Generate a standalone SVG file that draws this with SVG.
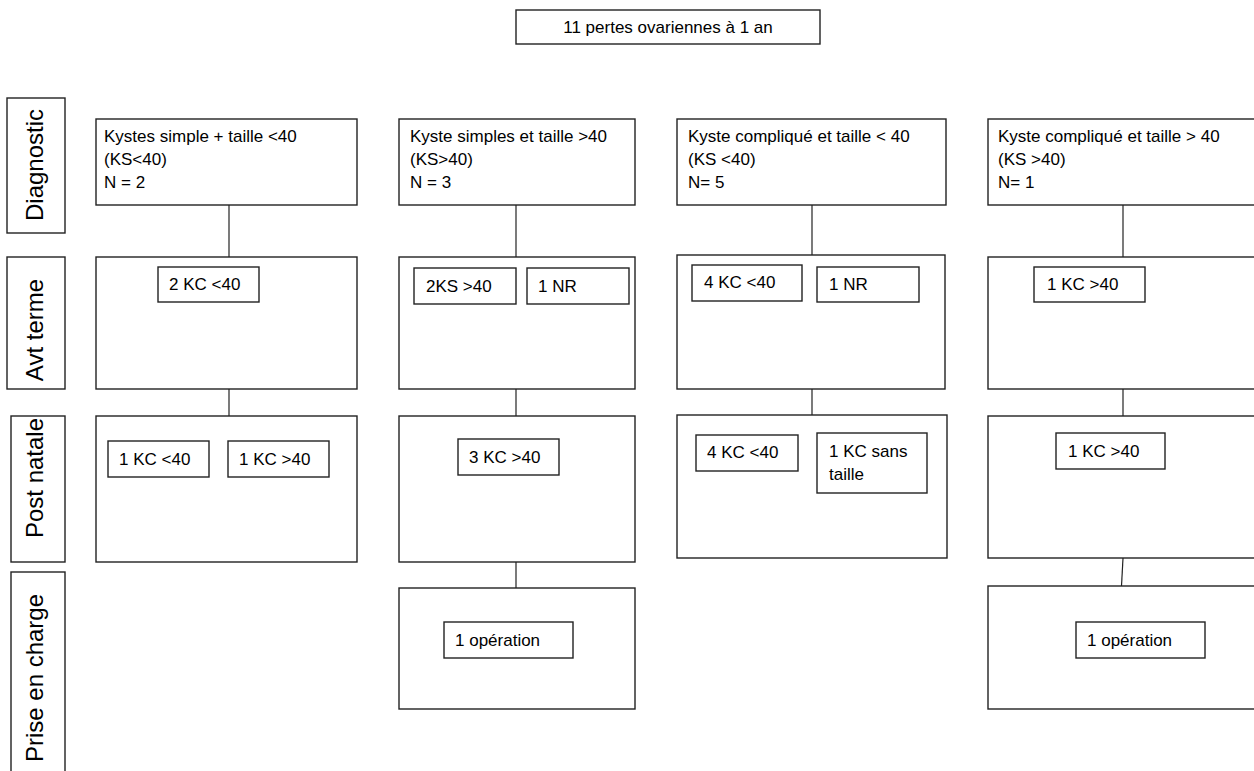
<svg xmlns="http://www.w3.org/2000/svg" width="1254" height="771" viewBox="0 0 1254 771">
<style>
.b{fill:#fff;stroke:#222;stroke-width:1.4}
.c{stroke:#222;stroke-width:1.2;fill:none}
text{font-family:"Liberation Sans",Arial,sans-serif;font-size:17px;fill:#000}
.lab{font-size:24px;text-anchor:middle}
</style>
<rect width="1254" height="771" fill="#fff"/>
<g id="title"><rect class="b" x="516" y="10" width="304" height="34"/><text x="668" y="33" text-anchor="middle">11 pertes ovariennes à 1 an</text></g>
<g id="lab-diagnostic"><rect class="b" x="7" y="98" width="58" height="135"/><text class="lab" transform="translate(43,165) rotate(-90)">Diagnostic</text></g>
<g id="lab-avt"><rect class="b" x="7" y="257" width="58" height="132"/><text class="lab" transform="translate(43,330) rotate(-90)">Avt terme</text></g>
<g id="lab-post"><rect class="b" x="11" y="416" width="54" height="146"/><text class="lab" transform="translate(43,478) rotate(-90)">Post natale</text></g>
<g id="lab-prise"><rect class="b" x="11" y="572" width="54" height="210"/><text class="lab" transform="translate(43,678) rotate(-90)">Prise en charge</text></g>
<g id="connectors">
<line class="c" x1="229" y1="205" x2="229" y2="257"/>
<line class="c" x1="229" y1="389" x2="229" y2="416"/>
<line class="c" x1="516" y1="205" x2="516" y2="257"/>
<line class="c" x1="516" y1="389" x2="516" y2="416"/>
<line class="c" x1="516" y1="562" x2="516" y2="588"/>
<line class="c" x1="812" y1="205" x2="812" y2="255"/>
<line class="c" x1="812" y1="389" x2="812" y2="415"/>
<line class="c" x1="1123" y1="205" x2="1123" y2="257"/>
<line class="c" x1="1123" y1="389" x2="1123" y2="416"/>
<line class="c" x1="1123" y1="558" x2="1121.5" y2="586"/>
</g>
<g id="c1-diag"><rect class="b" x="96" y="119" width="261" height="86"/><text x="104" y="142">Kystes simple + taille &lt;40</text><text x="104" y="165">(KS&lt;40)</text><text x="104" y="188">N = 2</text></g>
<g id="c1-avt"><rect class="b" x="96" y="257" width="261" height="132"/><rect class="b" x="158" y="267" width="101" height="35"/><text x="169" y="290">2 KC &lt;40</text></g>
<g id="c1-post"><rect class="b" x="96" y="416" width="261" height="146"/><rect class="b" x="108" y="441" width="101" height="36"/><text x="119" y="465">1 KC &lt;40</text><rect class="b" x="228" y="441" width="101" height="36"/><text x="239" y="465">1 KC &gt;40</text></g>
<g id="c2-diag"><rect class="b" x="399" y="119" width="236" height="86"/><text x="410" y="142">Kyste simples et taille &gt;40</text><text x="410" y="165">(KS&gt;40)</text><text x="410" y="188">N = 3</text></g>
<g id="c2-avt"><rect class="b" x="399" y="257" width="236" height="132"/><rect class="b" x="414" y="268" width="102" height="36"/><text x="426" y="292">2KS &gt;40</text><rect class="b" x="527" y="268" width="102" height="36"/><text x="538" y="292">1 NR</text></g>
<g id="c2-post"><rect class="b" x="399" y="416" width="236" height="146"/><rect class="b" x="458" y="439" width="101" height="36"/><text x="469" y="463">3 KC &gt;40</text></g>
<g id="c2-prise"><rect class="b" x="399" y="588" width="236" height="121"/><rect class="b" x="444" y="622" width="129" height="36"/><text x="455" y="646">1 opération</text></g>
<g id="c3-diag"><rect class="b" x="677" y="119" width="269" height="86"/><text x="688" y="142">Kyste compliqué et taille &lt; 40</text><text x="688" y="165">(KS &lt;40)</text><text x="688" y="188">N= 5</text></g>
<g id="c3-avt"><rect class="b" x="677" y="255" width="268" height="134"/><rect class="b" x="692" y="265" width="110" height="36"/><text x="704" y="288">4 KC &lt;40</text><rect class="b" x="817" y="267" width="102" height="35"/><text x="829" y="290">1 NR</text></g>
<g id="c3-post"><rect class="b" x="677" y="415" width="270" height="143"/><rect class="b" x="696" y="435" width="102" height="36"/><text x="707" y="458">4 KC &lt;40</text><rect class="b" x="817" y="433" width="110" height="60"/><text x="829" y="457">1 KC sans</text><text x="829" y="480">taille</text></g>
<g id="c4-diag"><rect class="b" x="988" y="119" width="280" height="86"/><text x="998" y="142">Kyste compliqué et taille &gt; 40</text><text x="998" y="165">(KS &gt;40)</text><text x="998" y="188">N= 1</text></g>
<g id="c4-avt"><rect class="b" x="988" y="257" width="280" height="132"/><rect class="b" x="1034" y="267" width="111" height="35"/><text x="1047" y="290">1 KC &gt;40</text></g>
<g id="c4-post"><rect class="b" x="988" y="416" width="280" height="142"/><rect class="b" x="1056" y="433" width="109" height="36"/><text x="1068" y="457">1 KC &gt;40</text></g>
<g id="c4-prise"><rect class="b" x="988" y="586" width="280" height="123"/><rect class="b" x="1076" y="622" width="129" height="36"/><text x="1087" y="646">1 opération</text></g>
</svg>
